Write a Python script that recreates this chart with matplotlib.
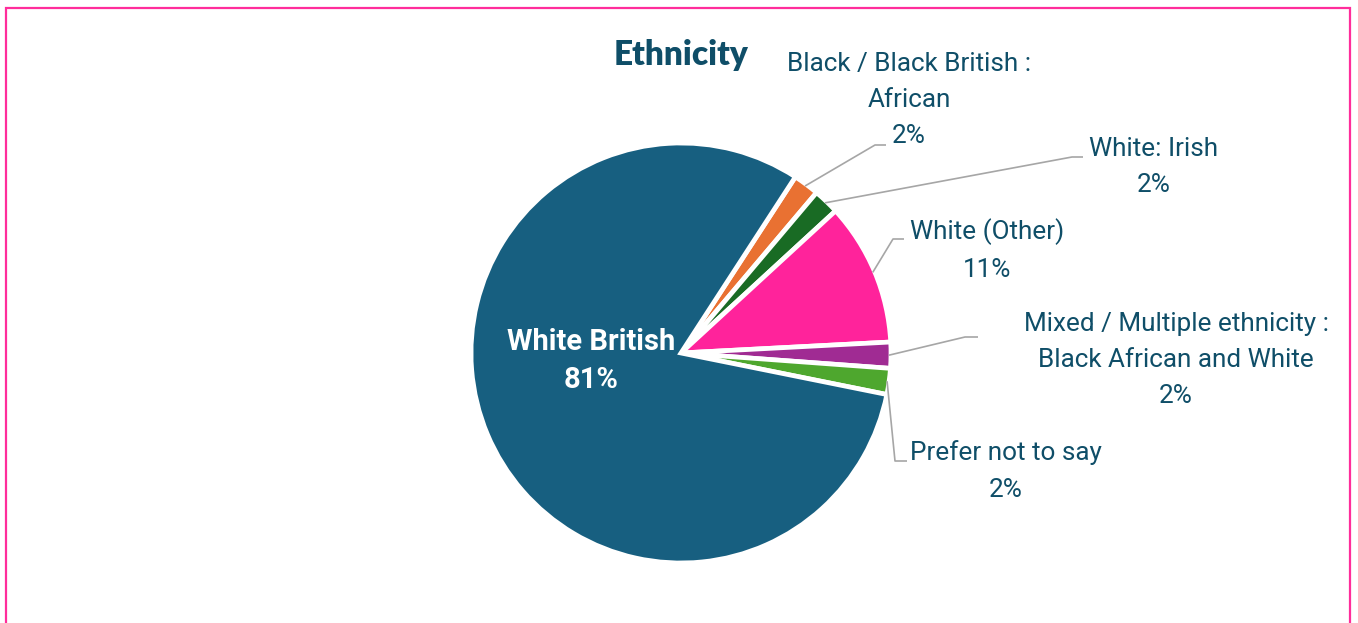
import numpy as np
import matplotlib.pyplot as plt
from matplotlib.patches import Rectangle

# Ethnicity breakdown (percent of respondents)
groups = ["Black / Black British :\nAfrican", "White: Irish", "White (Other)",
          "Mixed / Multiple ethnicity :\nBlack African and White",
          "Prefer not to say", "White British"]
shares = [2, 2, 11, 2, 2, 81]
colors = ["#E97132", "#196B24", "#FF239B", "#A02B93", "#4EA72E", "#175F80"]

text_color = "#0F4E68"
line_color = "#A6A6A6"

W, H = 1358, 623
fig = plt.figure(figsize=(W / 100, H / 100), dpi=100)
ax = fig.add_axes([0, 0, 1, 1])

# pie placed in pixel-like coordinates (y grows upward)
cx, cy, r = 681, H - 353, 210
start = 57
wedges, _ = ax.pie(shares, colors=colors, startangle=start, counterclock=False,
                   center=(cx, cy), radius=r, frame=True,
                   wedgeprops=dict(edgecolor="white", linewidth=3.4))
ax.set_xlim(0, W)
ax.set_ylim(0, H)
ax.set_aspect("equal")
ax.axis("off")

# outer pink frame
fig.patches.append(Rectangle((6 / W, -0.05), (1350 - 6) / W, (H - 8) / H + 0.05,
                             transform=fig.transFigure, fill=False,
                             edgecolor="#FF2D9B", linewidth=1.6))

ax.text(681, H - 55, "Ethnicity", ha="center", va="center", fontsize=24,
        fontweight="heavy", family="Lato", color=text_color)

# label layout: (text centre, elbow points of the leader line)
label_pos = [(909, 100), (1154, 167), (987, 250), (1176, 360), (1006, 471)]
elbows = [[(875, 145), (886, 145)],
          [(1072, 157), (1083, 157)],
          [(893, 239), (904, 239)],
          [(965, 337), (978, 337)],
          [(895, 461), (907, 461)]]

for i, (w, lab, pct) in enumerate(zip(wedges[:5], groups[:5], shares[:5])):
    mid = np.deg2rad((w.theta1 + w.theta2) / 2)
    x0 = cx + (r - 2) * np.cos(mid)
    y0 = cy + (r - 2) * np.sin(mid)
    pts = [(x0, y0)] + [(x, H - y) for x, y in elbows[i]]
    xs, ys = zip(*pts)
    ax.plot(xs, ys, color=line_color, linewidth=1.2, solid_capstyle="butt")
    tx, ty = label_pos[i]
    ax.text(tx, H - ty, f"{lab}\n{pct}%", ha="center", va="center",
            fontsize=18.8, family="Roboto", color=text_color, linespacing=1.64)

ax.text(591, H - 361, f"White British\n{shares[5]}%", ha="center", va="center",
        fontsize=21, fontweight="bold", family="Roboto", color="white",
        linespacing=1.48)

fig.savefig("out.png", dpi=100, facecolor="white")
